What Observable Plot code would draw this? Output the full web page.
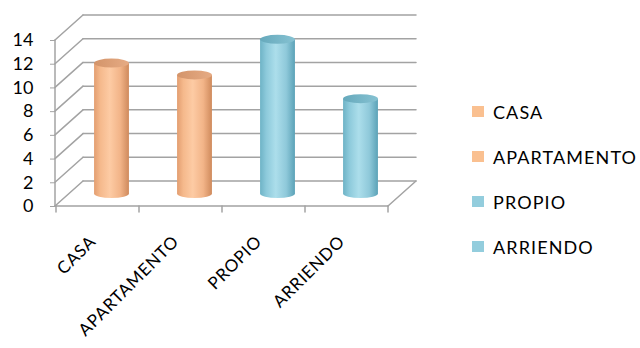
<!DOCTYPE html>
<html>
<head>
<meta charset="utf-8">
<script src="https://cdn.jsdelivr.net/npm/d3@7"></script>
<script src="https://cdn.jsdelivr.net/npm/@observablehq/plot@0.6"></script>
<style>
  body { margin: 0; background: #fff; }
  #wrap { position: relative; width: 640px; height: 348px; font-family: Lato, sans-serif; }
  #wrap svg { position: absolute; left: 0; top: 0; }
  .item { position: absolute; left: 472px; height: 23px; display: flex; align-items: center;
          white-space: nowrap; font-size: 18px; letter-spacing: 1.1px; color: #000; }
  .key { width: 12px; height: 11px; margin-right: 9px; flex: none; }
</style>
</head>
<body>
<div id="wrap"></div>
<script>
// Tipo de vivienda y tenencia
const categories = ["CASA", "APARTAMENTO", "PROPIO", "ARRIENDO"];
const counts = [11, 10, 13, 8];
const groups = ["vivienda", "vivienda", "tenencia", "tenencia"];
const yTicks = [0, 2, 4, 6, 8, 10, 12, 14];

// Colour ramps for the shaded cylinders, per group
const palette = {
  vivienda: {
    key: "#fac090",
    body: ["#e39e70", "#f5b98c", "#fdcba4", "#f2b488", "#cf8a5c"],
    top: ["#d3946a", "#e6ab84"]
  },
  tenencia: {
    key: "#93cddd",
    body: ["#6eb3c6", "#8dcadb", "#acdeeb", "#8fc9da", "#5ba2b7"],
    top: ["#66a9bc", "#86c2d2"]
  }
};

const gridColor = "#a3a3a3";
const depthX = 28, depthY = -25;   // offset of the back wall

// Walls, floor and cylinders, drawn with the chart's own scales
function scene(index, scales, channels, dimensions) {
  const {x, y} = scales;
  const bw = x.bandwidth();
  const left = dimensions.marginLeft;
  const right = dimensions.width - dimensions.marginRight;
  const g = d3.create("svg:g");
  const defs = g.append("defs");

  const stopsAt = [0, 0.18, 0.45, 0.75, 1];
  for (const [name, p] of Object.entries(palette)) {
    const lg = defs.append("linearGradient").attr("id", "body-" + name)
      .attr("x1", 0).attr("x2", 1).attr("y1", 0).attr("y2", 0);
    p.body.forEach((c, k) => lg.append("stop").attr("offset", stopsAt[k]).attr("stop-color", c));
    const tg = defs.append("linearGradient").attr("id", "top-" + name)
      .attr("x1", 0).attr("x2", 1).attr("y1", 0).attr("y2", 0);
    tg.append("stop").attr("offset", 0).attr("stop-color", p.top[0]);
    tg.append("stop").attr("offset", 1).attr("stop-color", p.top[1]);
  }

  const lines = g.append("g").attr("stroke", gridColor).attr("stroke-width", 1.5)
    .attr("fill", "none").attr("stroke-linecap", "round");

  // back wall gridlines
  for (const t of yTicks) {
    lines.append("line")
      .attr("x1", left + depthX).attr("x2", right + depthX)
      .attr("y1", y(t) + depthY).attr("y2", y(t) + depthY);
  }
  // side wall diagonals
  for (const t of yTicks) {
    lines.append("line")
      .attr("x1", left).attr("y1", y(t))
      .attr("x2", left + depthX).attr("y2", y(t) + depthY);
  }
  // floor right edge
  lines.append("line")
    .attr("x1", right).attr("y1", y(0))
    .attr("x2", right + depthX).attr("y2", y(0) + depthY);
  // front value axis line
  lines.append("line")
    .attr("x1", left).attr("x2", left)
    .attr("y1", y(0)).attr("y2", y(yTicks[yTicks.length - 1]));
  // floor front edge
  lines.append("line")
    .attr("x1", left).attr("x2", right)
    .attr("y1", y(0)).attr("y2", y(0));
  // category ticks at band edges
  const edges = categories.map(c => x(c)).concat([x(categories[categories.length - 1]) + bw]);
  for (const e of edges) {
    lines.append("line").attr("x1", e).attr("x2", e)
      .attr("y1", y(0)).attr("y2", y(0) + 6);
  }

  // cylinders, standing halfway into the depth
  const rx = bw * 0.21, ry = 4.5;
  categories.forEach((c, i) => {
    const cx = x(c) + bw / 2 + depthX / 2;
    const yb = y(0) + depthY / 2;
    const yt = y(counts[i]) + depthY / 2;
    const grp = groups[i];
    g.append("path")
      .attr("d", `M${cx - rx},${yt}L${cx - rx},${yb}A${rx},${ry} 0 0 0 ${cx + rx},${yb}L${cx + rx},${yt}Z`)
      .attr("fill", `url(#body-${grp})`);
    g.append("ellipse")
      .attr("cx", cx).attr("cy", yt).attr("rx", rx).attr("ry", ry)
      .attr("fill", `url(#top-${grp})`);
  });
  return g.node();
}

const chart = Plot.plot({
  width: 640,
  height: 348,
  marginLeft: 55,
  marginRight: 252,
  marginTop: 40,
  marginBottom: 142,
  x: {type: "band", domain: categories, padding: 0, axis: null},
  y: {domain: [0, 14], axis: null},
  style: {fontFamily: "Lato, sans-serif", fontSize: "18px", color: "#000", background: "transparent"},
  marks: [
    scene,
    Plot.axisY(yTicks, {anchor: "left", tickSize: 5, tickPadding: 17, stroke: gridColor, color: "#000", label: null, fontSize: 18}),
    Plot.text(categories, {x: d => d, frameAnchor: "bottom", rotate: -45, textAnchor: "end", dx: -1, dy: 36, fontSize: 17, fill: "#000"})
  ]
});

// wider tracking on the rotated category names
d3.select(chart).selectAll("g[aria-label=text] text").attr("letter-spacing", "0.8px");

const wrap = document.getElementById("wrap");
wrap.appendChild(chart);

// Legend
categories.forEach((c, i) => {
  const item = document.createElement("div");
  item.className = "item";
  item.style.top = (100 + i * 45) + "px";
  const key = document.createElement("span");
  key.className = "key";
  key.style.background = palette[groups[i]].key;
  item.appendChild(key);
  item.appendChild(document.createTextNode(c));
  wrap.appendChild(item);
});
</script>
</body>
</html>
